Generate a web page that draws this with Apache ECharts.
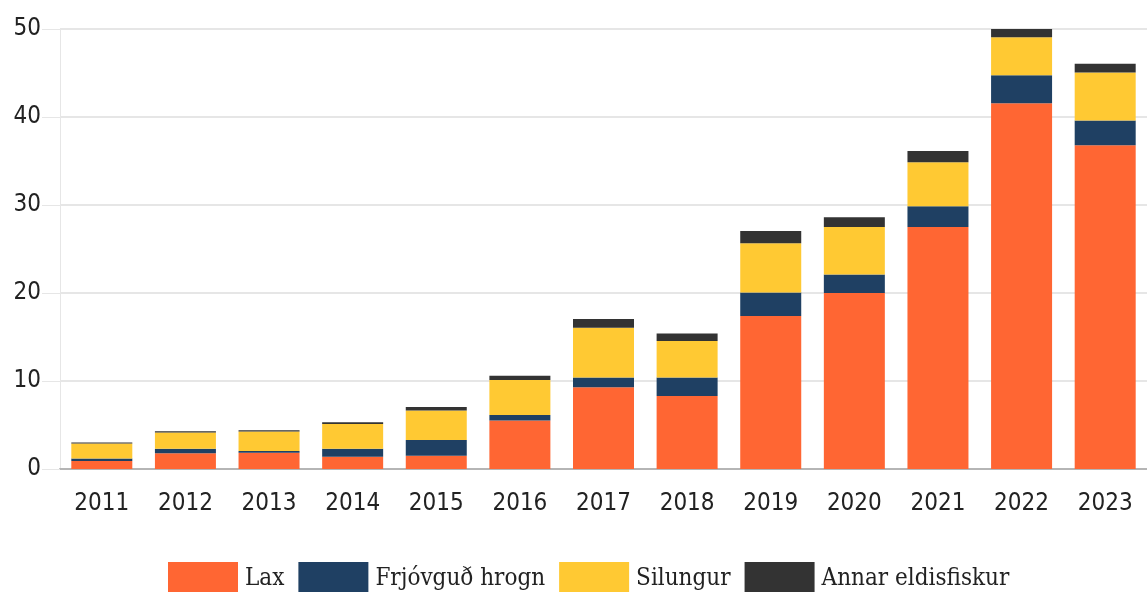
<!DOCTYPE html>
<html>
<head>
<meta charset="utf-8">
<script src="https://cdn.jsdelivr.net/npm/echarts@6/dist/echarts.min.js"></script>
<style>
  html, body { margin: 0; padding: 0; background: #fff; }
  #chart { width: 1147px; height: 592px; }
</style>
</head>
<body>
<div id="chart"></div>
<script>
// ár
var years = ['2011', '2012', '2013', '2014', '2015', '2016', '2017', '2018', '2019', '2020', '2021', '2022', '2023'];
// þúsund tonn (lesið af myndinni)
var lax = [0.9, 1.8, 1.85, 1.4, 1.5, 5.5, 9.3, 8.3, 17.4, 20.0, 27.5, 41.55, 36.8];
var hrogn = [0.3, 0.5, 0.2, 0.9, 1.8, 0.65, 1.1, 2.1, 2.65, 2.1, 2.35, 3.2, 2.8];
var silungur = [1.7, 1.85, 2.2, 2.8, 3.35, 3.95, 5.65, 4.15, 5.6, 5.4, 5.0, 4.3, 5.45];
var annar = [0.1, 0.15, 0.15, 0.2, 0.4, 0.5, 1.0, 0.85, 1.4, 1.1, 1.3, 0.95, 1.0];

var names = ['Lax', 'Frjóvguð hrogn', 'Silungur', 'Annar eldisfiskur'];
var colors = ['#ff6633', '#1f4063', '#ffc933', '#333333'];

var sansFont = "'DejaVu Sans Condensed', 'Roboto', sans-serif";
var serifFont = "'DejaVu Serif Condensed', 'Liberation Serif', serif";

var myChart = echarts.init(document.getElementById('chart'));

function makeSeries(name, data, color) {
    return {
        name: name,
        type: 'bar',
        stack: 'total',
        barWidth: 61,
        data: data,
        itemStyle: { color: color },
        animation: false
    };
}

var option = {
    backgroundColor: '#fff',
    color: colors,
    grid: { left: 60, top: 29, width: 1092, height: 440 },
    legend: {
        left: 163,
        top: 557,
        itemWidth: 70,
        itemHeight: 33,
        itemGap: 14,
        icon: 'rect',
        textStyle: { fontFamily: serifFont, fontSize: 24, color: '#222', padding: [0, 0, 0, 2] },
        data: names
    },
    xAxis: {
        type: 'category',
        data: years,
        axisTick: { show: false },
        axisLine: { lineStyle: { color: '#b5b5b5', width: 2 } },
        axisLabel: { fontFamily: sansFont, fontSize: 24, color: '#222', margin: 23 }
    },
    yAxis: {
        type: 'value',
        min: 0,
        max: 50,
        interval: 10,
        axisLine: { show: true, lineStyle: { color: '#e6e6e6' } },
        axisTick: { show: true, length: 18, lineStyle: { color: '#e6e6e6' } },
        splitLine: { lineStyle: { color: '#e6e6e6', width: 2 } },
        axisLabel: { fontFamily: sansFont, fontSize: 24, color: '#222', margin: 19 }
    },
    series: [
        makeSeries(names[0], lax, colors[0]),
        makeSeries(names[1], hrogn, colors[1]),
        makeSeries(names[2], silungur, colors[2]),
        makeSeries(names[3], annar, colors[3])
    ]
};

myChart.setOption(option);
</script>
</body>
</html>
